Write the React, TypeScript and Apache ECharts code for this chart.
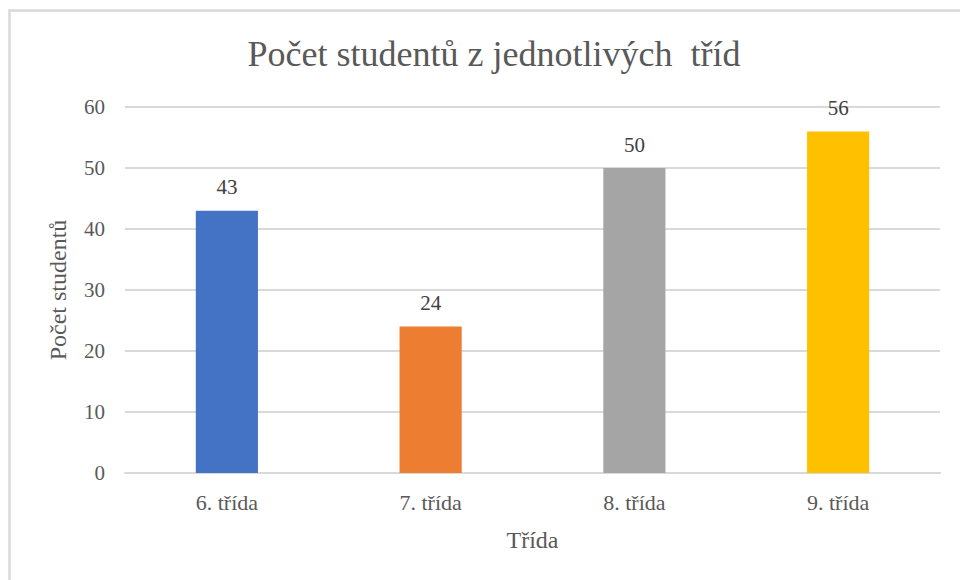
import React, { useEffect, useRef } from "react";
import * as echarts from "echarts";

const categories = ["6. třída", "7. třída", "8. třída", "9. třída"];
const values = [43, 24, 50, 56];
const barColors = ["#4472C4", "#ED7D31", "#A5A5A5", "#FFC000"];
const titleText = "Počet studentů z jednotlivých  tříd";
const xAxisName = "Třída";
const yAxisName = "Počet studentů";

const FONT = "Times New Roman, Liberation Serif, serif";

export default function App() {
  const ref = useRef<HTMLDivElement>(null);
  useEffect(() => {
    if (!ref.current) return;
    const chart = echarts.init(ref.current, undefined, { renderer: "svg" });
    chart.setOption({
      animation: false,
      backgroundColor: "#ffffff",
      textStyle: { fontFamily: FONT },
      graphic: [
        {
          type: "rect",
          shape: { x: 9.5, y: 10.5, width: 1000, height: 700 },
          style: { fill: "none", stroke: "#d9d9d9", lineWidth: 2.5 },
          silent: true,
        },
      ],
      title: {
        text: titleText,
        left: 489,
        textAlign: "center",
        top: 31,
        textStyle: { fontFamily: FONT, fontSize: 36, fontWeight: "normal", color: "#595959" },
      },
      grid: { left: 125, right: 20, top: 107, bottom: 107, containLabel: false },
      xAxis: {
        type: "category",
        data: categories,
        name: xAxisName,
        nameLocation: "middle",
        nameGap: 55,
        nameTextStyle: { fontFamily: FONT, fontSize: 24, color: "#595959" },
        axisLine: { show: true, lineStyle: { color: "#d9d9d9", width: 2 } },
        axisTick: { show: false },
        axisLabel: { fontFamily: FONT, fontSize: 22, color: "#595959", margin: 18 },
      },
      yAxis: {
        type: "value",
        min: 0,
        max: 60,
        interval: 10,
        name: yAxisName,
        nameLocation: "middle",
        nameGap: 55,
        nameRotate: 90,
        nameTextStyle: { fontFamily: FONT, fontSize: 24, color: "#595959" },
        axisLine: { show: false },
        axisTick: { show: false },
        axisLabel: { fontFamily: FONT, fontSize: 21, color: "#595959", margin: 20 },
        splitLine: { lineStyle: { color: "#d9d9d9", width: 2 } },
      },
      series: [
        {
          type: "bar",
          data: values.map((v, i) => ({ value: v, itemStyle: { color: barColors[i] } })),
          barWidth: "30.5%",
          label: {
            show: true,
            position: "top",
            distance: 13,
            fontFamily: FONT,
            fontSize: 21,
            color: "#404040",
          },
        },
      ],
    });
    return () => chart.dispose();
  }, []);
  return (
    <div
      ref={ref}
      style={{ position: "fixed", left: 0, top: 0, width: 960, height: 580 }}
    />
  );
}
